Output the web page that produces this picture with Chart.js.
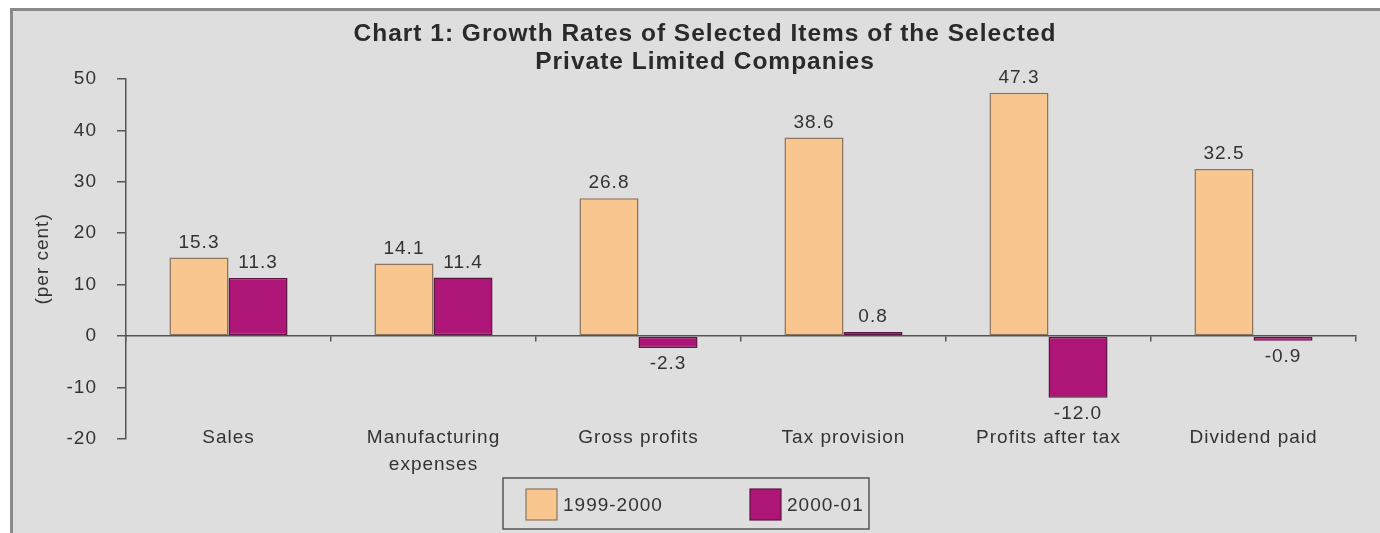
<!DOCTYPE html>
<html>
<head>
<meta charset="utf-8">
<title>Growth Rates of Selected Items</title>
<script src="https://cdn.jsdelivr.net/npm/chart.js@4/dist/chart.umd.min.js"></script>
<style>
  html, body { margin: 0; padding: 0; background: #fff; }
  #growthChart { display: block; }
</style>
</head>
<body>
<canvas id="growthChart" width="1380" height="533"></canvas>
<script>
// categories and growth rates (per cent)
const categories = ['Sales', ['Manufacturing', 'expenses'], 'Gross profits', 'Tax provision', 'Profits after tax', 'Dividend paid'];
const seriesNames = ['1999-2000', '2000-01'];
const growth1999 = [15.3, 14.1, 26.8, 38.6, 47.3, 32.5];
const growth2000 = [11.3, 11.4, -2.3, 0.8, -12.0, -0.9];
const yMin = -20, yMax = 50, yStep = 10;
const titleLines = ['Chart 1: Growth Rates of Selected Items of the Selected', 'Private Limited Companies'];
const yTitle = '(per cent)';

const fillColors = ['#f8c68e', '#ad1676'];
const edgeColors = ['#8a7560', '#5c1442'];
const textColor = '#333';
const axisColor = '#555';

Chart.defaults.font.family = '"Liberation Sans", Arial, sans-serif';
Chart.defaults.font.size = 19;
Chart.defaults.color = textColor;

// grey panel with a border, plus slightly wider letter spacing like the old export
const panelPlugin = {
  id: 'panel',
  beforeDraw(chart) {
    const ctx = chart.ctx;
    ctx.save();
    ctx.fillStyle = '#fff';
    ctx.fillRect(0, 0, chart.width, chart.height);
    ctx.fillStyle = '#dedede';
    ctx.fillRect(11, 9, chart.width, chart.height);
    ctx.strokeStyle = '#8a8a8a';
    ctx.lineWidth = 3;
    ctx.strokeRect(11.5, 9.5, chart.width + 10, chart.height + 10);
    ctx.restore();
    ctx.letterSpacing = '1px';
  }
};

// value labels above positive bars and below negative ones
const valueLabels = {
  id: 'valueLabels',
  afterDatasetsDraw(chart) {
    const ctx = chart.ctx;
    ctx.save();
    ctx.font = '19px "Liberation Sans", Arial, sans-serif';
    ctx.fillStyle = textColor;
    ctx.textAlign = 'center';
    ctx.textBaseline = 'middle';
    chart.data.datasets.forEach((ds, i) => {
      chart.getDatasetMeta(i).data.forEach((bar, j) => {
        const v = ds.data[j];
        const y = v >= 0 ? bar.y - 15 : bar.y + 16;
        ctx.fillText(v.toFixed(1), bar.x, y);
      });
    });
    ctx.restore();
  }
};

// boxed legend under the axis labels
const boxLegend = {
  id: 'boxLegend',
  afterDraw(chart) {
    const ctx = chart.ctx;
    const bx = 503, by = 478, bw = 366, bh = 51;
    const offsets = [23, 247];
    ctx.save();
    ctx.strokeStyle = axisColor;
    ctx.lineWidth = 1.5;
    ctx.strokeRect(bx, by, bw, bh);
    ctx.font = '19px "Liberation Sans", Arial, sans-serif';
    ctx.textBaseline = 'middle';
    ctx.textAlign = 'left';
    chart.data.datasets.forEach((ds, i) => {
      const x = bx + offsets[i];
      ctx.fillStyle = ds.backgroundColor;
      ctx.fillRect(x, by + 11, 31, 31);
      ctx.strokeStyle = ds.borderColor;
      ctx.lineWidth = 1.2;
      ctx.strokeRect(x, by + 11, 31, 31);
      ctx.fillStyle = textColor;
      ctx.fillText(ds.label, x + 37, by + 28);
    });
    ctx.restore();
  }
};

const ctx = document.getElementById('growthChart').getContext('2d');

new Chart(ctx, {
  type: 'bar',
  data: {
    labels: categories,
    datasets: [
      {
        label: seriesNames[0],
        data: growth1999,
        backgroundColor: fillColors[0],
        borderColor: edgeColors[0],
        borderWidth: 1.5,
        borderSkipped: false
      },
      {
        label: seriesNames[1],
        data: growth2000,
        backgroundColor: fillColors[1],
        borderColor: edgeColors[1],
        borderWidth: 1.5,
        borderSkipped: false
      }
    ]
  },
  options: {
    responsive: false,
    animation: false,
    categoryPercentage: 0.576,
    barPercentage: 1,
    layout: { padding: { left: 54, right: 24, top: 0, bottom: 94 } },
    plugins: {
      legend: { display: false },
      tooltip: { enabled: false },
      title: {
        display: true,
        text: titleLines,
        color: '#2a2a2a',
        font: { size: 24.5, weight: 'bold', lineHeight: 1.14 },
        padding: { top: 20, bottom: 3 }
      }
    },
    scales: {
      // category labels sit along the bottom of the plot
      x: {
        position: { y: yMin },
        grid: { display: false, drawTicks: false },
        border: { display: false },
        ticks: {
          autoSkip: false,
          maxRotation: 0,
          padding: -15,
          font: { size: 19, lineHeight: 1.42 }
        }
      },
      // zero line with category tick marks
      x2: {
        type: 'category',
        axis: 'x',
        labels: categories,
        position: { y: 0 },
        offset: true,
        grid: { offset: true, drawOnChartArea: false, tickLength: 5, color: axisColor, lineWidth: 1.5 },
        border: { color: axisColor, width: 1.5 },
        ticks: { display: false }
      },
      y: {
        min: yMin,
        max: yMax,
        ticks: { stepSize: yStep, padding: 20 },
        grid: { drawOnChartArea: false, tickLength: 9, color: axisColor, lineWidth: 1.5 },
        border: { color: axisColor, width: 1.5 },
        title: {
          display: true,
          text: yTitle,
          padding: { top: -23, bottom: 0 }
        },
        afterFit(scale) { scale.width = 72; }
      }
    }
  },
  plugins: [panelPlugin, valueLabels, boxLegend]
});
</script>
</body>
</html>
